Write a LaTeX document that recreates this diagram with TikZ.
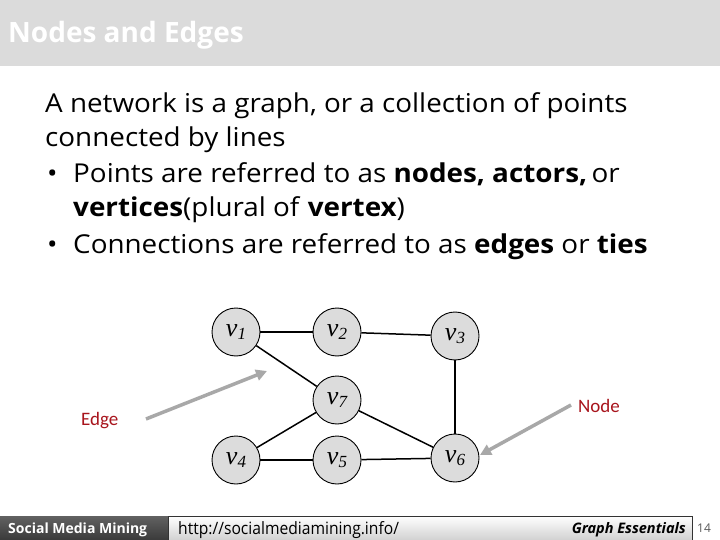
\documentclass[tikz,border=0pt]{standalone}
\usepackage{fontspec}
\setmainfont{Open Sans}
\newfontfamily\bodyfont[FakeStretch=1.07]{Open Sans}
\newfontfamily\urlfont[FakeStretch=0.92]{Open Sans}
\newfontfamily\serifv{Liberation Serif}
\newfontfamily\callab{Carlito}
\usetikzlibrary{arrows.meta}
\definecolor{titlegray}{HTML}{DBDBDB}
\definecolor{nodegray}{HTML}{DCDCDC}
\definecolor{arrowgray}{HTML}{A8A8A8}
\definecolor{labelred}{HTML}{A8141C}
\definecolor{footdark}{HTML}{3A3A3A}
\tikzset{
  vert/.style={circle, draw=black, line width=0.9pt, fill=nodegray, minimum size=48pt, inner sep=0pt},
  edgeline/.style={line width=1.5pt, black},
  pointer/.style={draw=arrowgray, line width=3.5pt, -{Triangle[width=11pt,length=11pt]}},
  bodytext/.style={anchor=base west, inner sep=0pt, font=\bodyfont\fontsize{26}{30}\selectfont},
  redlabel/.style={anchor=base west, inner sep=0pt, text=labelred, font=\callab\fontsize{19}{19}\selectfont},
}
\newcommand{\vlab}[1]{{\serifv\fontsize{26}{26}\selectfont\itshape v\raisebox{-3pt}{\fontsize{17}{17}\selectfont #1}}}
\begin{document}
\begin{tikzpicture}[x=1pt,y=-1pt]
\useasboundingbox (0,0) rectangle (720,540);
\fill[white] (0,0) rectangle (720,540);
% title bar
\fill[titlegray] (0,0) rectangle (720,66);
\node[anchor=base west, inner sep=0pt, text=white, font=\bfseries\fontsize{28}{28}\selectfont] (title) at (8,43) {Nodes and Edges};
% body text
\node[bodytext] (l1) at (45,113) {A network is a graph, or a collection of points};
\node[bodytext] (l2) at (45,147) {connected by lines};
\node[bodytext] (b1) at (47,183) {\textbullet};
\node[bodytext] (l3) at (73,183) {Points are referred to as \textbf{nodes, actors,}\,or};
\node[bodytext] (l4) at (73,217) {\textbf{vertices}(plural of \textbf{vertex})};
\node[bodytext] (b2) at (47,253) {\textbullet};
\node[bodytext] (l5) at (73,253) {Connections are referred to as \textbf{edges} or \textbf{ties}};
% graph
\node[vert] (v1) at (236,332) {\vlab{1}};
\node[vert] (v2) at (337,332) {\vlab{2}};
\node[vert] (v3) at (455,336) {\vlab{3}};
\node[vert] (v7) at (337,400) {\vlab{7}};
\node[vert] (v4) at (236,460) {\vlab{4}};
\node[vert] (v5) at (337,460) {\vlab{5}};
\node[vert] (v6) at (455,458) {\vlab{6}};
\draw[edgeline] (v1) -- (v2);
\draw[edgeline] (v2) -- (v3);
\draw[edgeline] (v1) -- (v7);
\draw[edgeline] (v3) -- (v6);
\draw[edgeline] (v7) -- (v4);
\draw[edgeline] (v7) -- (v6);
\draw[edgeline] (v4) -- (v5);
\draw[edgeline] (v5) -- (v6);
% annotations
\node[redlabel] (edgelab) at (81,425) {Edge};
\node[redlabel] (nodelab) at (578,412) {Node};
\coordinate (ea) at (146,419);
\coordinate (eb) at (267,371);
\coordinate (na) at (571,405);
\coordinate (nb) at (480,455);
\draw[pointer] (ea) -- (eb);
\draw[pointer] (na) -- (nb);
% footer
\shade[top color=footdark!80, bottom color=footdark] (0,516) rectangle (168,540);
\node[anchor=base west, inner sep=0pt, text=white, font=\bfseries\fontsize{14}{14}\selectfont] (fl) at (8,533) {Social Media Mining};
\shade[top color=white, bottom color=black!18] (168,516) rectangle (692,540);
\draw[black!80, line width=0.8pt] (168,540) -- (168,516) -- (692,516) -- (692,540);
\node[anchor=base west, inner sep=0pt, font=\urlfont\fontsize{17}{17}\selectfont] (url) at (178,534) {http://socialmediamining.info/};
\node[anchor=base east, inner sep=0pt, font=\bfseries\itshape\fontsize{14.5}{14.5}\selectfont] (ge) at (686,533) {Graph Essentials};
\node[anchor=base west, inner sep=0pt, text=black!65, font=\fontsize{12}{12}\selectfont] (pg) at (697,532) {14};
\end{tikzpicture}
\end{document}
